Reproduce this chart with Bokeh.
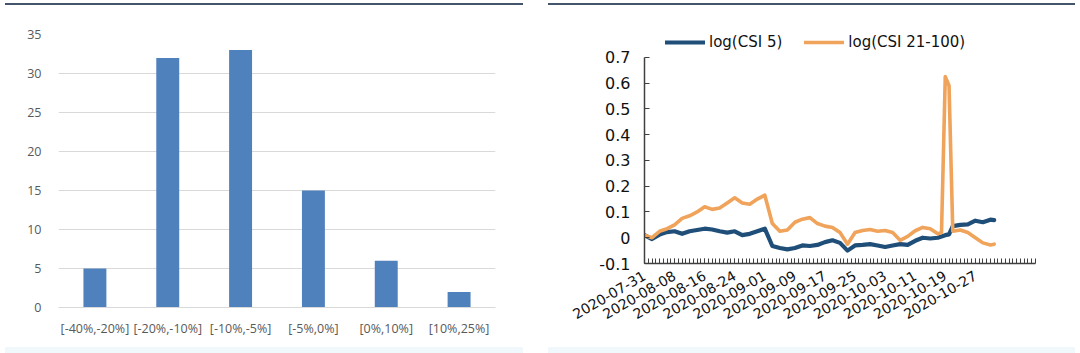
import math
import pandas as pd
from bokeh.plotting import figure
from bokeh.layouts import column, row
from bokeh.models import (Range1d, FixedTicker, NumeralTickFormatter, DatetimeTickFormatter,
                          Legend, LegendItem, Spacer)
from bokeh.embed import file_html
from bokeh.resources import INLINE

# ---------------- data: left chart ----------------
bins = ["[-40%,-20%]", "[-20%,-10%]", "[-10%,-5%]", "[-5%,0%]", "[0%,10%]", "[10%,25%]"]
counts = [5, 32, 33, 15, 6, 2]
count_ticks = [0, 5, 10, 15, 20, 25, 30, 35]

# ---------------- data: right chart ----------------
start_date = "2020-07-31"
day_offsets = [0, 2, 4, 6, 8, 10, 12, 14, 16, 18, 20, 22, 24, 26, 28, 30, 32, 34, 36, 38,
               40, 42, 44, 46, 48, 50, 52, 54, 56, 58, 60, 62, 64, 66, 68, 70, 72, 74, 76, 78,
               79, 80, 81, 82, 84, 86, 88, 90, 92, 93]
csi5 = [0.010, -0.005, 0.012, 0.022, 0.025, 0.015, 0.025, 0.030, 0.035, 0.032,
        0.025, 0.020, 0.025, 0.010, 0.015, 0.025, 0.035, -0.032, -0.040, -0.045,
        -0.040, -0.030, -0.032, -0.028, -0.017, -0.010, -0.020, -0.050, -0.030, -0.028,
        -0.025, -0.030, -0.036, -0.030, -0.025, -0.028, -0.012, 0.000, -0.003, 0.000,
        0.005, 0.010, 0.013, 0.045, 0.050, 0.052, 0.066, 0.060, 0.070, 0.068]
csi21_100 = [0.010, 0.000, 0.025, 0.035, 0.050, 0.075, 0.085, 0.100, 0.120, 0.110,
             0.115, 0.135, 0.155, 0.135, 0.130, 0.150, 0.165, 0.055, 0.025, 0.030,
             0.060, 0.072, 0.078, 0.055, 0.045, 0.040, 0.020, -0.025, 0.020, 0.028,
             0.032, 0.025, 0.028, 0.020, -0.010, 0.005, 0.027, 0.040, 0.035, 0.015,
             0.020, 0.625, 0.590, 0.025, 0.030, 0.020, 0.000, -0.020, -0.028, -0.025]
series_names = ["log(CSI 5)", "log(CSI 21-100)"]
date_tick_labels = ["2020-07-31", "2020-08-08", "2020-08-16", "2020-08-24", "2020-09-01",
                    "2020-09-09", "2020-09-17", "2020-09-25", "2020-10-03", "2020-10-11",
                    "2020-10-19", "2020-10-27"]
value_ticks = [-0.1, 0.0, 0.1, 0.2, 0.3, 0.4, 0.5, 0.6, 0.7]
axis_end_date = "2020-11-12"

BAR = "#4F81BD"
BLUE = "#1F4E79"
ORANGE = "#F0A35A"
GRID = "#D9D9D9"
TXT = "#595959"

# ---------------- left chart ----------------
p1 = figure(width=540, height=340, x_range=bins, y_range=Range1d(0, 35),
            output_backend="svg", toolbar_location=None,
            min_border_left=58, min_border_right=45, min_border_top=29, min_border_bottom=38)
p1.vbar(x=bins, top=counts, width=0.315, fill_color=BAR, line_color=None)
p1.outline_line_color = None
p1.xgrid.visible = False
p1.ygrid.grid_line_color = GRID
p1.yaxis.ticker = FixedTicker(ticks=count_ticks)
p1.yaxis.axis_line_color = None
p1.yaxis.major_tick_line_color = None
p1.yaxis.minor_tick_line_color = None
p1.yaxis.major_label_standoff = 11
p1.xaxis.axis_line_color = GRID
p1.xaxis.major_tick_line_color = None
p1.xaxis.major_label_standoff = 6
for ax in (p1.xaxis[0], p1.yaxis[0]):
    ax.major_label_text_font = "Open Sans"
    ax.major_label_text_font_size = "12.5px"
    ax.major_label_text_color = TXT

# ---------------- right chart ----------------
t0 = pd.Timestamp(start_date)
dates = [t0 + pd.Timedelta(days=d) for d in day_offsets]
t_end = pd.Timestamp(axis_end_date)


def ms(ts):
    return ts.timestamp() * 1000.0


major_ms = [ms(pd.Timestamp(s)) for s in date_tick_labels]
minor_ms = [ms(t0 + pd.Timedelta(days=i)) for i in range(int((t_end - t0).days) + 1)]

# the frame reaches a little above 0.7 so the legend can sit inside it
p2 = figure(width=540, height=340, x_axis_type="datetime",
            x_range=Range1d(ms(t0), ms(t_end)), y_range=Range1d(-0.1, 0.8),
            output_backend="svg", toolbar_location=None,
            min_border_left=104, min_border_right=45, min_border_top=26, min_border_bottom=82)
p2.outline_line_color = None
p2.grid.visible = False
r1 = p2.line(dates, csi5, line_color=BLUE, line_width=4.2, line_join="round", line_cap="round")
r2 = p2.line(dates, csi21_100, line_color=ORANGE, line_width=3.6, line_join="round", line_cap="round")

p2.yaxis.ticker = FixedTicker(ticks=value_ticks)
p2.yaxis.bounds = (value_ticks[0], value_ticks[-1])
p2.yaxis.formatter = NumeralTickFormatter(format="0.[0]")
p2.xaxis.ticker = FixedTicker(ticks=major_ms, minor_ticks=minor_ms)
fmt = "%Y-%m-%d"
p2.xaxis.formatter = DatetimeTickFormatter(days=fmt, months=fmt, years=fmt, hours=fmt,
                                           hourmin=fmt, minutes=fmt, minsec=fmt,
                                           seconds=fmt, milliseconds=fmt, microseconds=fmt)
p2.xaxis.major_label_orientation = math.pi / 6
for ax in (p2.xaxis[0], p2.yaxis[0]):
    ax.axis_line_color = "#404040"
    ax.axis_line_width = 1.5
    ax.major_tick_line_color = "#404040"
    ax.minor_tick_line_color = "#404040"
    ax.major_tick_in = 5
    ax.major_tick_out = 0
    ax.minor_tick_in = 5
    ax.minor_tick_out = 0
    ax.major_label_text_font = "DejaVu Sans"
    ax.major_label_text_color = "#111111"
p2.yaxis.minor_tick_line_color = None
p2.yaxis.major_label_text_font_size = "16px"
p2.yaxis.major_label_standoff = 14
p2.xaxis.major_label_text_font_size = "14px"
p2.xaxis.major_label_standoff = 11

legend = Legend(items=[LegendItem(label=series_names[0], renderers=[r1]),
                       LegendItem(label=series_names[1], renderers=[r2])],
                orientation="horizontal", location=(21, 212),
                glyph_width=40, glyph_height=16, label_standoff=4, spacing=22,
                padding=0, margin=0, label_text_font="DejaVu Sans",
                label_text_font_size="15px", label_text_color="#111111",
                border_line_color=None, background_fill_alpha=0)
p2.add_layout(legend, "center")

# ---------------- decorative strips ----------------
TOPC = "#44546A"
BOTC = "#F1F8FB"


def strip(w, h, color):
    return Spacer(width=w, height=h, styles={"background-color": color})


layout = column(
    Spacer(width=1080, height=3),
    row(Spacer(width=5, height=2), strip(518, 2, TOPC), Spacer(width=25, height=2), strip(527, 2, TOPC)),
    row(column(p1), column(p2)),
    Spacer(width=1080, height=2),
    row(Spacer(width=5, height=6), strip(518, 6, BOTC), Spacer(width=25, height=6), strip(527, 6, BOTC)),
)

open("out.html", "w").write(file_html(layout, INLINE))
